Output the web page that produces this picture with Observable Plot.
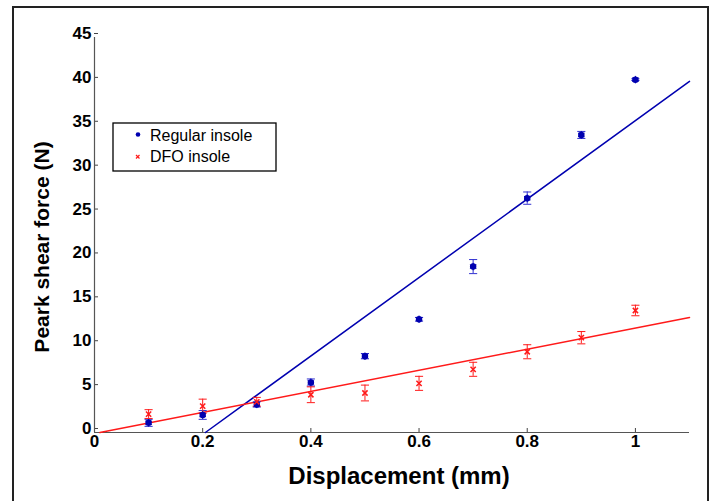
<!DOCTYPE html>
<html><head><meta charset="utf-8">
<script src="https://cdn.jsdelivr.net/npm/d3@7"></script>
<script src="https://cdn.jsdelivr.net/npm/@observablehq/plot@0.6"></script>
<style>
body{margin:0;background:#fff;}
#chart{position:relative;width:711px;height:501px;}
</style></head>
<body><div id="chart"></div>
<script>
const displacement = [0.1,0.2,0.3,0.4,0.5,0.6,0.7,0.8,0.9,1.0];
const regularMean = [1.1,2.0,3.2,5.7,8.7,12.9,18.9,26.7,33.9,40.2];
const regularErr  = [0.4,0.5,0.3,0.4,0.3,0.2,0.8,0.7,0.4,0.1];
const dfoMean = [2.1,3.0,3.5,4.3,4.5,5.6,7.2,9.2,10.8,13.9];
const dfoErr  = [0.5,0.8,0.5,0.9,0.9,0.8,0.8,0.8,0.7,0.6];
const regularFitX = [0.205,1.1];
const regularFitY = [0,40];
const dfoFitX = [0.01,1.1];
const dfoFitY = [0,13.1];
const xTicks = [0,0.2,0.4,0.6,0.8,1];
const yTicks = [0,5,10,15,20,25,30,35,40,45];
const seriesNames = ["Regular insole","DFO insole"];

const BLUE = "#0000b0", RED = "#ff1a1a";
const FONT = "Helvetica, 'Liberation Sans', Arial, sans-serif";
const reg = displacement.map((x,i)=>({x, y:regularMean[i], e:regularErr[i]}));
const dfo = displacement.map((x,i)=>({x, y:dfoMean[i], e:dfoErr[i]}));
const regFit = regularFitX.map((x,i)=>({x, y:regularFitY[i]}));
const dfoFit = dfoFitX.map((x,i)=>({x, y:dfoFitY[i]}));
const cap = 0.0075;

function errMarks(data, color){
  return [
    Plot.ruleX(data,{x:"x", y1:d=>d.y-d.e, y2:d=>d.y+d.e, stroke:color, strokeWidth:1}),
    Plot.link(data,{x1:d=>d.x-cap, x2:d=>d.x+cap, y1:d=>d.y-d.e, y2:d=>d.y-d.e, stroke:color, strokeWidth:1}),
    Plot.link(data,{x1:d=>d.x-cap, x2:d=>d.x+cap, y1:d=>d.y+d.e, y2:d=>d.y+d.e, stroke:color, strokeWidth:1})
  ];
}

const plot = Plot.plot({
  width:711, height:501,
  marginLeft:94, marginRight:22, marginTop:37, marginBottom:69,
  style:{fontFamily:FONT, fontWeight:"bold", fontSize:"17px", background:"#fff", color:"#000"},
  x:{domain:[0,1.1], ticks:xTicks, tickFormat:d=>String(d), label:null},
  y:{domain:[0,45], ticks:yTicks, tickFormat:d=>String(d), label:null},
  marks:[
    Plot.axisX({ticks:xTicks, tickSize:-4, tickPadding:6, tickFormat:d=>String(d), stroke:"#444", fontSize:17, fontWeight:"bold", label:null}),
    Plot.axisY({ticks:yTicks, tickSize:-4, tickPadding:7, dy:-4, tickFormat:d=>String(d), stroke:"#444", fontSize:17, fontWeight:"bold", label:null}),
    Plot.ruleX([0],{stroke:"#555", strokeWidth:1.2}),
    Plot.ruleY([0],{stroke:"#555", strokeWidth:1.2}),
    Plot.line(regFit,{x:"x", y:"y", stroke:BLUE, strokeWidth:1.5}),
    Plot.line(dfoFit,{x:"x", y:"y", stroke:RED, strokeWidth:1.5}),
    ...errMarks(reg, "#3030d0"),
    ...errMarks(dfo, RED),
    Plot.dot(reg,{x:"x", y:"y", r:2.5, fill:BLUE, stroke:BLUE}),
    Plot.dot(reg,{x:"x", y:"y", r:3.5, symbol:"asterisk", stroke:BLUE, strokeWidth:1}),
    Plot.dot(dfo,{x:"x", y:"y", r:2.5, symbol:"times", stroke:RED, strokeWidth:1.5}),
    Plot.text(["Displacement (mm)"],{frameAnchor:"bottom", textAnchor:"middle", lineAnchor:"bottom", dx:7, dy:51, fontSize:24, fontWeight:"bold", fill:"#000"}),
    Plot.text(["Peark shear force (N)"],{frameAnchor:"left", textAnchor:"middle", rotate:-90, dx:-52, dy:12, fontSize:21, fontWeight:"bold", fill:"#000"})
  ]
});

const svg = d3.select(plot);
svg.append("rect").attr("x",13).attr("y",7).attr("width",695).attr("height",510)
  .attr("fill","none").attr("stroke","#222").attr("stroke-width",2);
const lg = svg.append("g").attr("font-family",FONT).attr("font-weight","normal").attr("text-anchor","start");
lg.append("rect").attr("x",113).attr("y",123).attr("width",163).attr("height",48)
  .attr("fill","#fff").attr("stroke","#000").attr("stroke-width",1.3);
lg.append("circle").attr("cx",138).attr("cy",134.5).attr("r",2.3).attr("fill",BLUE);
lg.append("text").attr("x",150).attr("y",141).attr("font-size",16).attr("fill","#000").text(seriesNames[0]);
lg.append("path").attr("d","M136,155l3.5,3.5m0,-3.5l-3.5,3.5").attr("stroke",RED).attr("stroke-width",1.2);
lg.append("text").attr("x",150).attr("y",162).attr("font-size",16).attr("fill","#000").text(seriesNames[1]);

document.getElementById("chart").appendChild(plot);
</script></body></html>
